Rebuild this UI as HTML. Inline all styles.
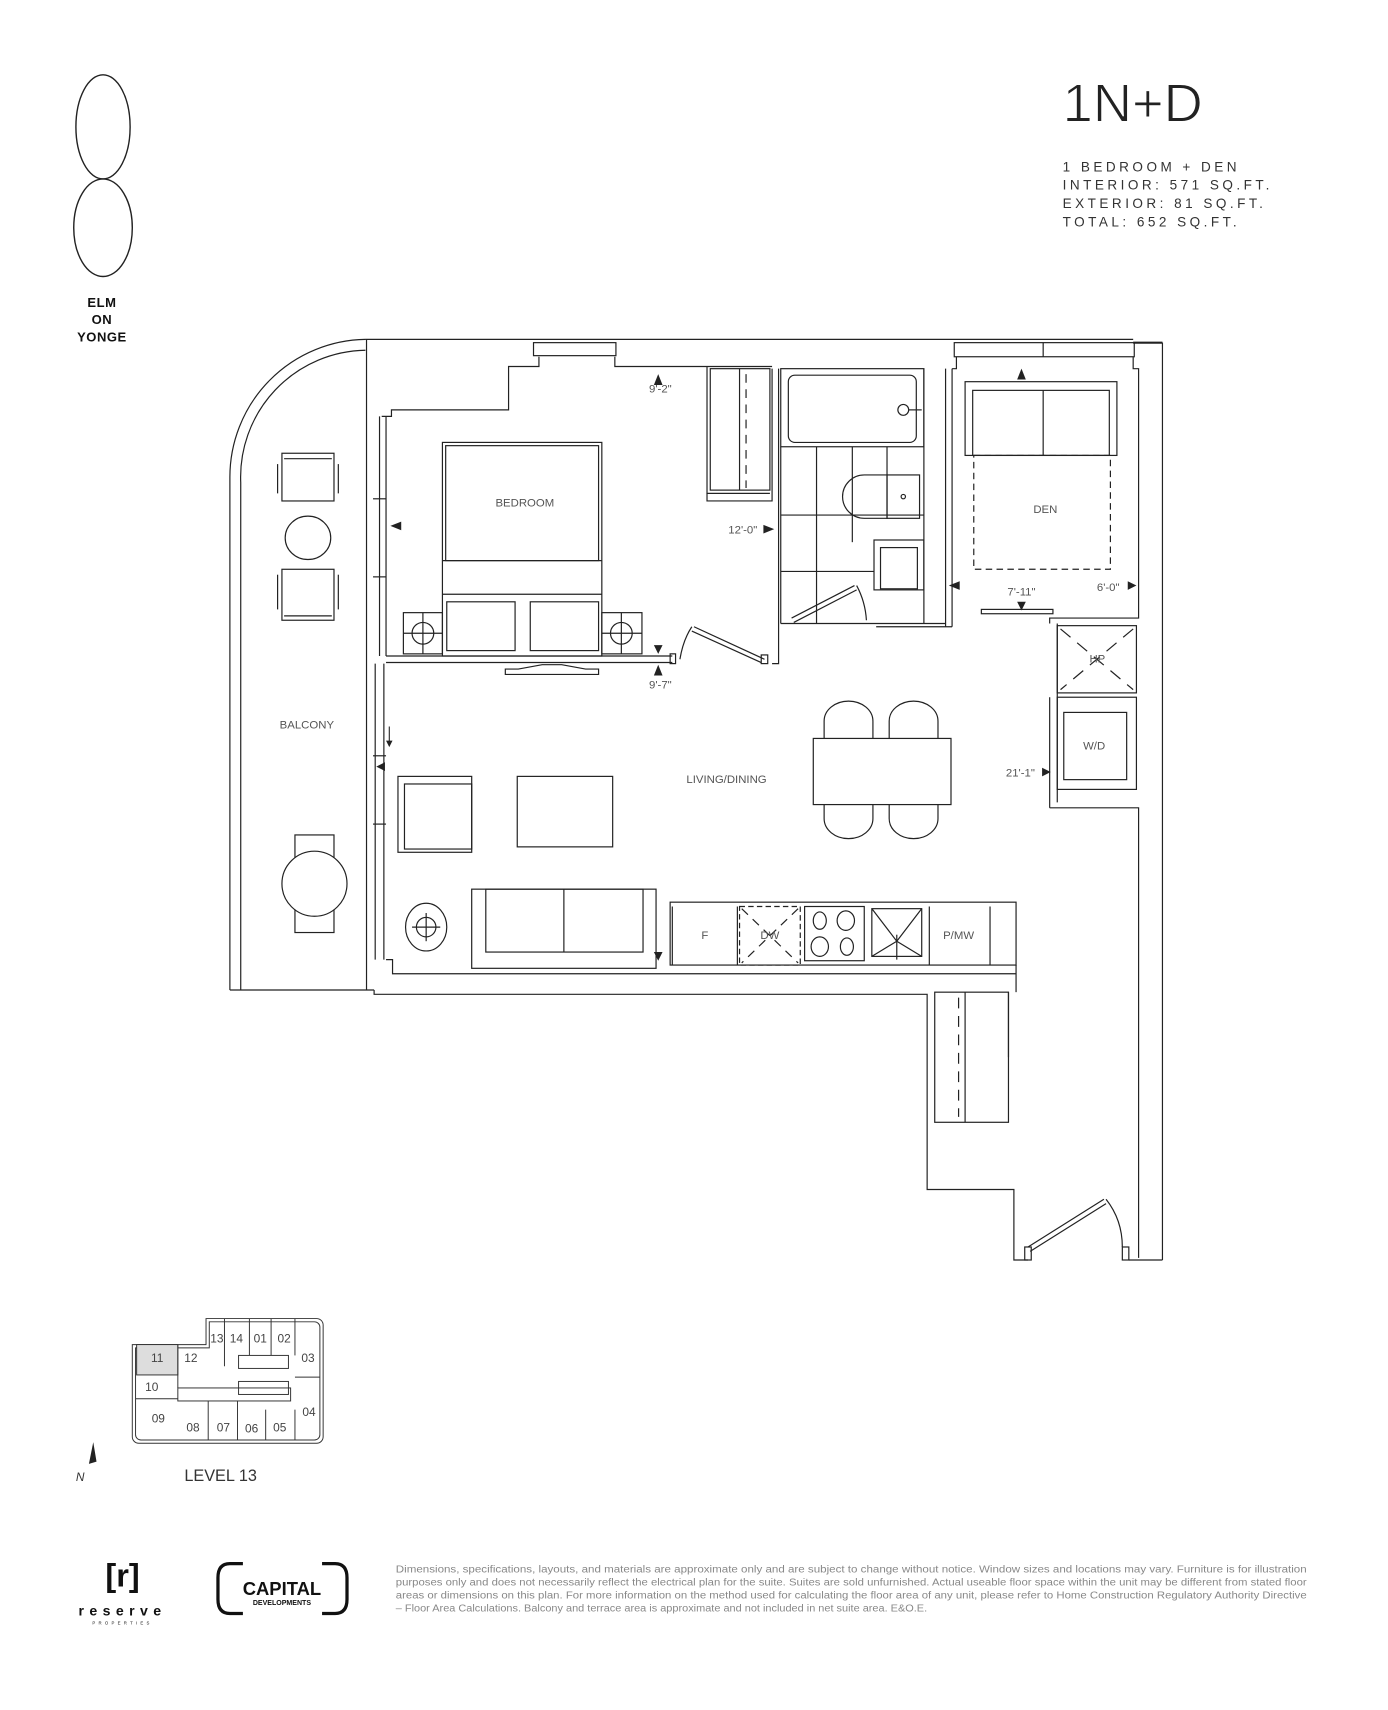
<!DOCTYPE html>
<html><head><meta charset="utf-8"><style>
html,body{margin:0;padding:0;background:#fff;}
svg{display:block;}
text{font-family:"Liberation Sans",sans-serif;}
</style></head><body>
<svg width="1388" height="1710" viewBox="0 0 1280 1577" preserveAspectRatio="none" xmlns="http://www.w3.org/2000/svg">
<g fill="none" stroke="#222" stroke-width="1.3">
<ellipse cx="95" cy="117" rx="25" ry="48"/>
<ellipse cx="95" cy="210" rx="27" ry="45"/>
</g>
<g font-weight="bold" font-size="12" text-anchor="middle" fill="#111" letter-spacing="0.5">
<text x="94" y="283">ELM</text><text x="94" y="299">ON</text><text x="94" y="315">YONGE</text>
</g>
<text x="980" y="112" font-size="50" fill="#222" stroke="#fff" stroke-width="1">1N+D</text>
<g font-size="12.5" fill="#333" letter-spacing="3.2">
<text x="980" y="158">1 BEDROOM + DEN</text>
<text x="980" y="175">INTERIOR: 571 SQ.FT.</text>
<text x="980" y="192">EXTERIOR: 81 SQ.FT.</text>
<text x="980" y="209">TOTAL: 652 SQ.FT.</text>
</g>

<g fill="none" stroke="#222" stroke-width="1.1">
<path d="M212 913 V440 A127 127 0 0 1 337 313"/>
<path d="M222 913 V445 A117 117 0 0 1 337 323"/>
<line x1="212" y1="913" x2="345" y2="913"/>
<polyline points="337,313 1045,313"/>
<polyline points="338,313 338,913"/>
<polyline points="352,384 361,384 361,378 469,378 469,338 497,338 497,329"/>
<rect x="492" y="316" width="76" height="12"/>
<polyline points="567,329 567,338 712,338"/>
<line x1="350" y1="384" x2="350" y2="605"/><line x1="356" y1="384" x2="356" y2="605"/>
<line x1="344" y1="460" x2="356" y2="460"/><line x1="344" y1="532" x2="356" y2="532"/>
<line x1="346" y1="612" x2="346" y2="885"/><line x1="354" y1="612" x2="354" y2="885"/>
<line x1="344" y1="697" x2="356" y2="697"/><line x1="344" y1="760" x2="356" y2="760"/>
<line x1="356" y1="605" x2="620" y2="605"/><line x1="356" y1="611" x2="620" y2="611"/>
<rect x="618" y="603" width="5" height="9"/>
<path d="M627 608 Q630 590 638 578"/><line x1="640" y1="578" x2="705" y2="608"/><line x1="638" y1="582" x2="702" y2="611"/>
<rect x="702" y="604" width="6" height="8"/>
<polyline points="652,338 652,455 710,455"/>
<rect x="655" y="340" width="55" height="112"/>
<line x1="682" y1="340" x2="682" y2="452"/>
<line x1="688" y1="345" x2="688" y2="450" stroke-dasharray="8 6"/>
<polyline points="652,455 652,462 712,462 712,340"/>
<polyline points="718,340 718,612 712,612"/>
<rect x="720" y="340" width="132" height="72"/>
<rect x="727" y="346" width="118" height="62" rx="6"/>
<circle cx="833" cy="378" r="5"/><line x1="838" y1="378" x2="850" y2="378"/>
<line x1="720" y1="412" x2="720" y2="575"/>
<line x1="852" y1="340" x2="852" y2="575"/>
<line x1="720" y1="475" x2="852" y2="475"/><line x1="720" y1="527" x2="806" y2="527"/>
<line x1="753" y1="412" x2="753" y2="575"/><line x1="786" y1="412" x2="786" y2="500"/><line x1="818" y1="412" x2="818" y2="438"/>
<path d="M818 438 H797 A20 20 0 0 0 797 478 H818 Z"/>
<rect x="818" y="438" width="30" height="40"/>
<circle cx="833" cy="458" r="2"/>
<rect x="806" y="498" width="46" height="46"/>
<rect x="812" y="505" width="34" height="38"/>
<line x1="720" y1="575" x2="872" y2="575"/>
<line x1="730" y1="570" x2="788" y2="540"/><line x1="732" y1="574" x2="790" y2="544"/>
<path d="M790 540 Q798 555 799 572"/>
<line x1="872" y1="340" x2="872" y2="578"/><line x1="878" y1="340" x2="878" y2="578"/>
<line x1="808" y1="578" x2="878" y2="578"/>
<rect x="880" y="316" width="166" height="13"/><line x1="962" y1="316" x2="962" y2="329"/>
<polyline points="878,340 882,340 882,329"/>
<polyline points="1045,329 1045,340 1050,340 1050,545"/>
<line x1="1072" y1="316" x2="1072" y2="1162"/>
<line x1="1045" y1="316" x2="1072" y2="316" stroke-width="2"/>
<rect x="890" y="352" width="140" height="68"/>
<rect x="897" y="360" width="126" height="60"/>
<line x1="962" y1="360" x2="962" y2="420"/>
<rect x="898" y="420" width="126" height="105" stroke-dasharray="6 4"/>
<rect x="905" y="562" width="66" height="4"/>
<polyline points="1050,545 1050,570 968,570 968,575"/>
<rect x="975" y="577" width="73" height="62"/>
<line x1="978" y1="580" x2="1045" y2="636" stroke-dasharray="12 8"/>
<line x1="1045" y1="580" x2="978" y2="636" stroke-dasharray="12 8"/>
<rect x="975" y="643" width="73" height="85"/>
<rect x="981" y="657" width="58" height="62"/>
<line x1="968" y1="643" x2="968" y2="745"/>
<polyline points="968,745 1050,745 1050,1160"/>
<line x1="975" y1="575" x2="975" y2="740"/>
<rect x="367" y="716" width="68" height="70"/><rect x="373" y="723" width="62" height="60"/>
<rect x="477" y="716" width="88" height="65"/>
<rect x="750" y="681" width="127" height="61"/>
<path d="M760 681 V665 A22 18 0 0 1 805 665 V681"/>
<path d="M820 681 V665 A22 18 0 0 1 865 665 V681"/>
<path d="M760 742 V755 A22 18 0 0 0 805 755 V742"/>
<path d="M820 742 V755 A22 18 0 0 0 865 755 V742"/>
<rect x="435" y="820" width="170" height="73"/><rect x="448" y="820" width="145" height="58"/>
<line x1="520" y1="820" x2="520" y2="878"/>
<ellipse cx="393" cy="855" rx="19" ry="22"/><circle cx="393" cy="855" r="9"/>
<line x1="380" y1="855" x2="406" y2="855"/><line x1="393" y1="842" x2="393" y2="868"/>
<rect x="618" y="832" width="319" height="58"/>
<line x1="620" y1="836" x2="620" y2="890"/>
<line x1="680" y1="836" x2="680" y2="890"/>
<rect x="682" y="836" width="56" height="54" stroke-dasharray="5 3"/>
<line x1="684" y1="838" x2="736" y2="888" stroke-dasharray="8 6"/><line x1="736" y1="838" x2="684" y2="888" stroke-dasharray="8 6"/>
<rect x="742" y="836" width="55" height="50"/>
<ellipse cx="756" cy="849" rx="6" ry="8"/><ellipse cx="780" cy="849" rx="8" ry="9"/>
<ellipse cx="756" cy="873" rx="8" ry="9"/><ellipse cx="781" cy="873" rx="6" ry="8"/>
<rect x="804" y="838" width="46" height="44"/>
<line x1="804" y1="838" x2="827" y2="868"/><line x1="850" y1="838" x2="827" y2="868"/>
<line x1="804" y1="882" x2="827" y2="868"/><line x1="850" y1="882" x2="827" y2="868"/>
<line x1="827" y1="862" x2="827" y2="885"/>
<line x1="857" y1="836" x2="857" y2="890"/><line x1="913" y1="836" x2="913" y2="890"/>
<polyline points="356,885 362,885 362,898 937,898"/>
<line x1="937" y1="890" x2="937" y2="915"/>
<polyline points="345,913 345,917 855,917 855,1097 935,1097 935,1162 948,1162"/>
<rect x="862" y="915" width="68" height="120"/><line x1="890" y1="915" x2="890" y2="1035"/>
<line x1="884" y1="920" x2="884" y2="1030" stroke-dasharray="10 7"/>
<line x1="930" y1="915" x2="930" y2="975"/>
<line x1="948" y1="1150" x2="1018" y2="1106"/><line x1="950" y1="1154" x2="1020" y2="1110"/>
<path d="M1020 1106 Q1035 1125 1035 1150"/>
<rect x="945" y="1150" width="6" height="12"/><rect x="1035" y="1150" width="6" height="12"/>
<line x1="1041" y1="1162" x2="1072" y2="1162"/>
<rect x="260" y="418" width="48" height="44"/><line x1="262" y1="423" x2="306" y2="423"/>
<line x1="256" y1="428" x2="256" y2="455"/><line x1="312" y1="428" x2="312" y2="455"/>
<ellipse cx="284" cy="496" rx="21" ry="20"/>
<rect x="260" y="525" width="48" height="47"/><line x1="262" y1="568" x2="306" y2="568"/>
<line x1="256" y1="530" x2="256" y2="562"/><line x1="312" y1="530" x2="312" y2="562"/>
<rect x="272" y="770" width="36" height="90"/>
<circle cx="290" cy="815" r="30" fill="#fff"/>
<rect x="408" y="408" width="147" height="197"/><rect x="411" y="411" width="141" height="106"/>
<line x1="408" y1="517" x2="555" y2="517"/><line x1="408" y1="548" x2="555" y2="548"/>
<rect x="412" y="555" width="63" height="45"/><rect x="489" y="555" width="63" height="45"/>
<rect x="372" y="565" width="36" height="38"/><circle cx="390" cy="584" r="10"/><line x1="390" y1="565" x2="390" y2="603"/><line x1="372" y1="584" x2="408" y2="584"/>
<rect x="555" y="565" width="37" height="38"/><circle cx="573" cy="584" r="10"/><line x1="573" y1="565" x2="573" y2="603"/><line x1="555" y1="584" x2="592" y2="584"/>
<polygon points="466,622 552,622 552,617 540,617 518,613 500,613 478,617 466,617"/>
</g>
<g fill="#222">
<polygon points="603,355 607,345 611,355"/>
<polygon points="360,485 370,481 370,489"/>
<polygon points="714,488 704,484 704,492"/>
<polygon points="603,595 607,603 611,595"/><polygon points="603,623 607,613 611,623"/>
<polygon points="938,350 942,340 946,350"/>
<polygon points="875,540 885,536 885,544"/>
<polygon points="1048,540 1040,536 1040,544"/>
<polygon points="938,555 942,563 946,555"/>
<polygon points="969,712 961,708 961,716"/>
<polygon points="347,707 355,703 355,711"/>
<polygon points="603,878 607,886 611,878"/>
</g>
<line x1="359" y1="670" x2="359" y2="686" stroke="#222"/><polygon points="356,683 359,689 362,683" fill="#222"/>
<g font-size="10.5" fill="#555" text-anchor="middle">
<text x="484" y="467">BEDROOM</text>
<text x="964" y="473">DEN</text>
<text x="283" y="672">BALCONY</text>
<text x="670" y="722">LIVING/DINING</text>
<text x="609" y="362">9'-2"</text>
<text x="685" y="492">12'-0"</text>
<text x="609" y="635">9'-7"</text>
<text x="942" y="549">7'-11"</text>
<text x="1022" y="545">6'-0"</text>
<text x="941" y="716">21'-1"</text>
<text x="1012" y="611">HP</text>
<text x="1009" y="691">W/D</text>
<text x="650" y="866">F</text>
<text x="710" y="866">DW</text>
<text x="884" y="866">P/MW</text>
</g>
<g fill="none" stroke="#333" stroke-width="0.9">
<path d="M122 1240 H190 V1216 H292 A6 6 0 0 1 298 1222 V1325 A6 6 0 0 1 292 1331 H128 A6 6 0 0 1 122 1325 Z"/>
<path d="M125 1243 H193 V1219 H290 A5 5 0 0 1 295 1224 V1323 A5 5 0 0 1 290 1328 H130 A5 5 0 0 1 125 1323 Z"/>
<rect x="126" y="1240" width="38" height="28" fill="#ddd"/>
<line x1="164" y1="1240" x2="164" y2="1280"/>
<line x1="125" y1="1290" x2="164" y2="1290"/>
<line x1="207" y1="1216" x2="207" y2="1260"/><line x1="230" y1="1216" x2="230" y2="1250"/>
<line x1="250" y1="1216" x2="250" y2="1250"/><line x1="272" y1="1216" x2="272" y2="1250"/>
<rect x="164" y="1280" width="104" height="12"/>
<rect x="220" y="1250" width="46" height="12"/><rect x="220" y="1274" width="46" height="12"/>
<line x1="192" y1="1292" x2="192" y2="1328"/><line x1="219" y1="1292" x2="219" y2="1328"/>
<line x1="245" y1="1300" x2="245" y2="1328"/><line x1="272" y1="1300" x2="272" y2="1328"/>
<line x1="272" y1="1270" x2="295" y2="1270"/>
</g>
<g font-size="11" fill="#444" text-anchor="middle">
<text x="145" y="1256">11</text><text x="176" y="1256">12</text><text x="200" y="1238">13</text><text x="218" y="1238">14</text>
<text x="240" y="1238">01</text><text x="262" y="1238">02</text><text x="284" y="1256">03</text>
<text x="140" y="1283">10</text><text x="285" y="1306">04</text><text x="146" y="1312">09</text>
<text x="178" y="1320">08</text><text x="206" y="1320">07</text><text x="232" y="1321">06</text><text x="258" y="1320">05</text>
</g>
<polygon points="86,1330 82,1350 89,1348" fill="#222"/>
<text x="70" y="1366" font-size="11" font-style="italic" fill="#333">N</text>
<text x="170" y="1366" font-size="15" fill="#333">LEVEL 13</text>
<text x="113" y="1463" font-size="30" font-weight="bold" text-anchor="middle" fill="#111">[r]</text>
<text x="113" y="1490" font-size="13" font-weight="bold" text-anchor="middle" fill="#111" letter-spacing="5">reserve</text>
<text x="113" y="1498" font-size="4" text-anchor="middle" fill="#111" letter-spacing="3">PROPERTIES</text>
<g fill="none" stroke="#111" stroke-width="3">
<path d="M224 1442 H212 Q201 1442 201 1455 V1475 Q201 1488 212 1488 H224"/>
<path d="M297 1442 H309 Q320 1442 320 1455 V1475 Q320 1488 309 1488 H297"/>
</g>
<text x="260" y="1471" font-size="17" font-weight="bold" text-anchor="middle" fill="#111">CAPITAL</text>
<text x="260" y="1480" font-size="6.5" font-weight="bold" text-anchor="middle" fill="#111">DEVELOPMENTS</text>
<g font-size="9" fill="#888">
<text x="365" y="1450" textLength="840" lengthAdjust="spacingAndGlyphs">Dimensions, specifications, layouts, and materials are approximate only and are subject to change without notice. Window sizes and locations may vary. Furniture is for illustration</text>
<text x="365" y="1462" textLength="840" lengthAdjust="spacingAndGlyphs">purposes only and does not necessarily reflect the electrical plan for the suite. Suites are sold unfurnished. Actual useable floor space within the unit may be different from stated floor</text>
<text x="365" y="1474" textLength="840" lengthAdjust="spacingAndGlyphs">areas or dimensions on this plan. For more information on the method used for calculating the floor area of any unit, please refer to Home Construction Regulatory Authority Directive</text>
<text x="365" y="1486" textLength="490" lengthAdjust="spacingAndGlyphs">– Floor Area Calculations. Balcony and terrace area is approximate and not included in net suite area. E&amp;O.E.</text>
</g>
</svg>
</body></html>
